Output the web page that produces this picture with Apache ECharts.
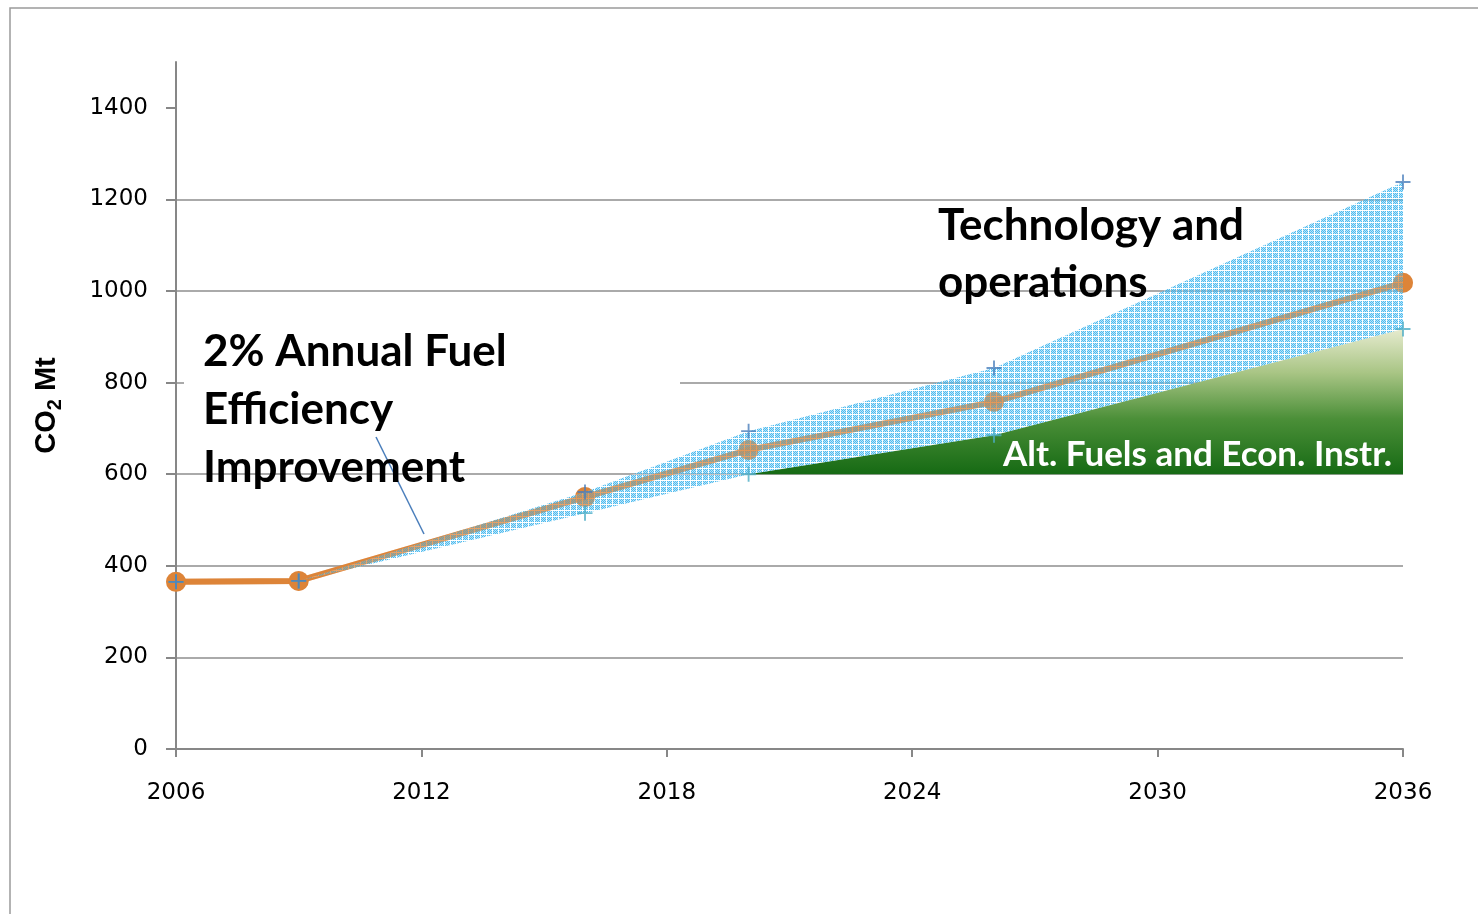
<!DOCTYPE html>
<html>
<head>
<meta charset="utf-8">
<script src="https://cdn.jsdelivr.net/npm/echarts@6/dist/echarts.min.js"></script>
<style>
html, body { margin: 0; padding: 0; background: #fff; }
#co2Chart { width: 1478px; height: 914px; }
</style>
</head>
<body>
<div id="co2Chart"></div>
<script>
// axis ticks
const xTicks = [2006, 2012, 2018, 2024, 2030, 2036];
const yTicks = [0, 200, 400, 600, 800, 1000, 1200, 1400];

// 2% annual fuel efficiency path (CO2 Mt)
const baseYears = [2006, 2009, 2016, 2020, 2026, 2036];
const baseValues = [365, 367, 550, 653, 758, 1018];

// technology and operations band
const bandYears = [2006, 2009, 2016, 2020, 2026, 2036];
const bandLow = [365, 367, 515, 600, 685, 917];
const bandHigh = [365, 367, 561, 694, 832, 1238];

// alt. fuels and econ. instruments wedge
const altYears = [2020, 2026, 2036];
const altFloor = [600, 600, 600];
const altTop = [600, 685, 917];

const plus = 'path://M7,0h2v7h7v2h-7v7h-2v-7h-7v-2h7z';

function pairs(xs, ys) {
  return xs.map((x, i) => [x, ys[i]]);
}

// hatched light blue fill like the office chart pattern
function makeHatch() {
  const c = document.createElement('canvas');
  c.width = 6; c.height = 6;
  const g = c.getContext('2d');
  for (let x = 0; x < 6; x++) {
    for (let y = 0; y < 6; y++) {
      let col;
      if (x === 0 || y === 0) col = 'rgba(255,255,255,0.35)';
      else if ((x + y) % 2 === 0) col = 'rgba(55,178,236,0.88)';
      else col = 'rgba(115,203,246,0.5)';
      g.fillStyle = col;
      g.fillRect(x, y, 1, 1);
    }
  }
  return c;
}
const hatch = makeHatch();

// area between two lines, drawn once through the axis scales
function rangeArea(xs, lows, highs, fill) {
  return function (params, api) {
    if (params.dataIndex !== 0) return null;
    const pts = [];
    xs.forEach((x, i) => pts.push(api.coord([x, lows[i]])));
    for (let i = xs.length - 1; i >= 0; i--) pts.push(api.coord([xs[i], highs[i]]));
    return {
      type: 'polygon',
      shape: { points: pts },
      style: { fill: fill, stroke: null }
    };
  };
}

const chart = echarts.init(document.getElementById('co2Chart'));

const option = {
  animation: false,
  backgroundColor: '#fff',
  grid: { left: 176, right: 75, top: 62, bottom: 165 },
  xAxis: {
    type: 'value',
    min: 2006,
    max: 2036,
    interval: 6,
    axisLine: { lineStyle: { color: '#878787', width: 2 } },
    axisTick: { show: true, length: 8, lineStyle: { color: '#878787', width: 2 } },
    axisLabel: {
      margin: 33,
      color: '#000',
      fontFamily: 'DejaVu Sans',
      fontSize: 23,
      formatter: v => String(v)
    },
    splitLine: { show: false }
  },
  yAxis: {
    type: 'value',
    min: 0,
    max: 1500,
    interval: 200,
    name: '{a|CO}{s|2}{a| Mt}',
    nameLocation: 'middle',
    nameRotate: 90,
    nameGap: 111,
    nameTextStyle: {
      rich: {
        a: { fontFamily: 'Liberation Sans', fontWeight: 'bold', fontSize: 29, color: '#000', lineHeight: 36 },
        s: { fontFamily: 'Liberation Sans', fontWeight: 'bold', fontSize: 20, color: '#000', lineHeight: 36, verticalAlign: 'bottom', padding: [14, 0, 0, 0] }
      }
    },
    axisLine: { show: true, lineStyle: { color: '#878787', width: 2 } },
    axisTick: { show: true, length: 10, customValues: yTicks, lineStyle: { color: '#878787', width: 2 } },
    axisLabel: {
      margin: 28,
      color: '#000',
      fontFamily: 'DejaVu Sans',
      fontSize: 23,
      padding: [4, 0, 0, 0],
      customValues: yTicks,
      formatter: v => String(v)
    },
    splitLine: { show: true, showMaxLine: false, lineStyle: { color: '#8e8e8e', width: 1.5 } }
  },
  series: [
    {
      name: 'base',
      type: 'line',
      data: pairs(baseYears, baseValues),
      symbol: 'circle',
      symbolSize: 20,
      itemStyle: { color: '#dd8439' },
      lineStyle: { color: '#dd8439', width: 6 },
      z: 2
    },
    {
      name: 'alt',
      type: 'custom',
      data: altYears.map((x, i) => [x, altFloor[i], altTop[i]]),
      encode: { x: 0, y: [1, 2] },
      renderItem: rangeArea(altYears, altFloor, altTop,
        new echarts.graphic.LinearGradient(0, 0, 0, 1, [
          { offset: 0, color: '#e6ebcf' },
          { offset: 0.3, color: '#a9c585' },
          { offset: 0.62, color: '#4b8f38' },
          { offset: 1, color: '#166a14' }
        ])),
      silent: true,
      z: 1
    },
    {
      name: 'band',
      type: 'custom',
      data: bandYears.map((x, i) => [x, bandLow[i], bandHigh[i]]),
      encode: { x: 0, y: [1, 2] },
      renderItem: rangeArea(bandYears, bandLow, bandHigh, { image: hatch, repeat: 'repeat' }),
      silent: true,
      z: 3
    },
    {
      // the orange path shows faintly through the hatch
      name: 'baseThrough',
      type: 'line',
      data: pairs(baseYears, baseValues),
      symbol: 'circle',
      symbolSize: 20,
      itemStyle: { color: '#dd8439', opacity: 0.3 },
      lineStyle: { color: '#dd8439', width: 6, opacity: 0.3 },
      silent: true,
      z: 4
    },
    {
      name: 'bandLow',
      type: 'scatter',
      data: pairs(bandYears, bandLow),
      symbol: plus,
      symbolSize: 15,
      itemStyle: { color: '#4bacc6' },
      z: 5
    },
    {
      name: 'bandHigh',
      type: 'scatter',
      data: pairs(bandYears, bandHigh),
      symbol: plus,
      symbolSize: 15,
      itemStyle: { color: '#4a7ebb' },
      z: 5
    }
  ],
  graphic: [
    // chart frame (left and top edges show)
    {
      type: 'rect', z: 0, silent: true,
      shape: { x: 10, y: 8, width: 1500, height: 1000 },
      style: { fill: 'none', stroke: '#9a9a9a', lineWidth: 1.5 }
    },
    // text box background hides part of the 800 gridline
    {
      type: 'rect', z: 1, silent: true,
      shape: { x: 184, y: 368, width: 496, height: 30 },
      style: { fill: '#fff' }
    },
    {
      type: 'line', z: 10, silent: true,
      shape: { x1: 376, y1: 437, x2: 424, y2: 534 },
      style: { stroke: '#4a7ebb', lineWidth: 1.5 }
    },
    {
      type: 'text', z: 10, left: 203, top: 323,
      style: {
        text: '2% Annual Fuel\nEfficiency\nImprovement',
        fontFamily: 'Lato', fontWeight: 'bold', fontSize: 44, lineHeight: 58, fill: '#000'
      }
    },
    {
      type: 'text', z: 10, left: 938, top: 197,
      style: {
        text: 'Technology and\noperations',
        fontFamily: 'Lato', fontWeight: 'bold', fontSize: 44, lineHeight: 57, fill: '#000'
      }
    },
    {
      type: 'text', z: 10, left: 1003, top: 437,
      style: {
        text: 'Alt. Fuels and Econ. Instr.',
        fontFamily: 'Lato', fontWeight: 'bold', fontSize: 35, fill: '#fff'
      }
    }
  ]
};

chart.setOption(option);
</script>
</body>
</html>
